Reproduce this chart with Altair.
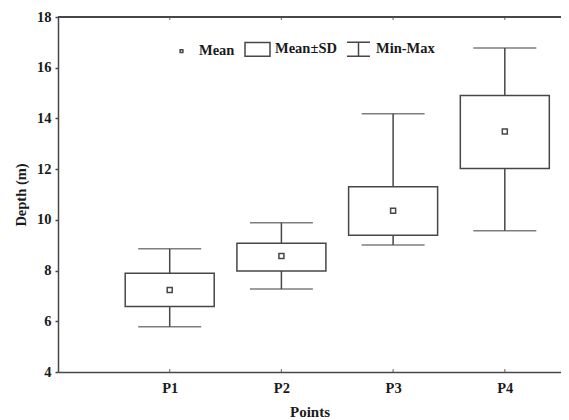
import altair as alt
import pandas as pd

# ---- data ----
points = ["P1", "P2", "P3", "P4"]
positions = [1, 2, 3, 4]
means = [7.23, 8.57, 10.36, 13.48]
sd_low = [6.58, 7.98, 9.39, 12.03]
sd_high = [7.89, 9.08, 11.31, 14.90]
mins = [5.78, 7.27, 9.01, 9.57]
maxs = [8.86, 9.89, 14.18, 16.78]
y_ticks = [4, 6, 8, 10, 12, 14, 16, 18]
legend_entries = ["Mean", "Mean±SD", "Min-Max"]

df = pd.DataFrame({
    "point": points, "pos": positions, "mean": means,
    "sd_low": sd_low, "sd_high": sd_high, "min": mins, "max": maxs,
})
legend_df = pd.DataFrame({"entry": legend_entries})

# ---- styles ----
LINE = "#474747"
TEXT = "#1a1a1a"
FONT = "Liberation Serif"
SW = 1.5

x_scale = alt.Scale(domain=[0, 4.503], nice=False, zero=False, padding=0)
y_scale = alt.Scale(domain=[4, 18], nice=False, zero=False, padding=0)

label_expr = "[" + ",".join("'%s'" % p for p in points) + "][datum.value - 1]"

x_axis = alt.Axis(values=positions, labelExpr=label_expr, title="Points",
                  tickSize=0, labelPadding=9, titlePadding=10, grid=False)
y_axis = alt.Axis(values=y_ticks, title="Depth (m)", tickSize=3,
                  labelPadding=4, titlePadding=8, grid=False)


def X():
    return alt.X("pos:Q", scale=x_scale, axis=x_axis, title="Points")


def Y(field):
    return alt.Y(field, scale=y_scale, axis=y_axis, title="Depth (m)")


def YD(v):
    return alt.YDatum(v, scale=y_scale, axis=y_axis, title="Depth (m)")


base = alt.Chart(df)

whisker = base.mark_rule(color=LINE, strokeWidth=SW).encode(
    x=X(), y=Y("min:Q"), y2="max:Q")

cap_min = base.mark_tick(orient="horizontal", size=63, thickness=SW, color=LINE).encode(
    x=X(), y=Y("min:Q"))
cap_max = base.mark_tick(orient="horizontal", size=63, thickness=SW, color=LINE).encode(
    x=X(), y=Y("max:Q"))

box = base.mark_bar(size=89, fill="white", stroke=LINE, strokeWidth=SW).encode(
    x=X(), y=Y("sd_low:Q"), y2="sd_high:Q")

mean_pt = base.mark_square(size=25, fill="white", stroke=LINE, strokeWidth=SW,
                           opacity=1, filled=True).encode(
    x=X(), y=Y("mean:Q"))

# frame top line and inward category ticks
top_line = base.mark_rule(color=LINE, strokeWidth=SW).encode(y=YD(18))
tick_bottom = base.mark_tick(orient="vertical", size=3, thickness=1.2, color=LINE,
                             yOffset=-1.5).encode(x=X(), y=YD(4))
tick_top = base.mark_tick(orient="vertical", size=3, thickness=1.2, color=LINE,
                          yOffset=1.5).encode(x=X(), y=YD(18))

# legend built from a shape scale with custom symbol paths
legend_paths = [
    "M-0.11,-0.11H0.11V0.11H-0.11Z",
    "M-1,-0.55H1V0.55H-1Z",
    "M-0.92,-0.56H0.92M0,-0.56V0.56M-0.92,0.56H0.92",
]
legend_layer = alt.Chart(legend_df).transform_filter("false").mark_point(
    filled=False, color=LINE, strokeWidth=SW, opacity=1).encode(
    shape=alt.Shape("entry:N",
                    scale=alt.Scale(domain=legend_entries, range=legend_paths),
                    legend=alt.Legend(
                        orient="none", legendX=110, legendY=18.5,
                        direction="horizontal", title=None,
                        symbolSize=625, symbolStrokeWidth=SW,
                        symbolStrokeColor=LINE, symbolOpacity=1,
                        labelOffset=4, columnPadding=7,
                        padding=0, labelFont=FONT, labelFontWeight="bold",
                        labelFontSize=14.5, labelColor=TEXT,
                        labelBaseline="middle")))

chart = alt.layer(
    whisker, cap_min, cap_max, box, mean_pt, top_line, tick_bottom, tick_top,
    legend_layer,
).properties(
    width=503, height=355,
    autosize=alt.AutoSizeParams(type="none"),
    padding={"left": 50, "top": 9, "right": 0, "bottom": 48},
).configure_view(
    stroke=None
).configure_axis(
    domainColor=LINE, domainWidth=SW, tickColor=LINE, tickWidth=SW,
    labelFont=FONT, labelFontWeight="bold", labelFontSize=14.5, labelColor=TEXT,
    titleFont=FONT, titleFontWeight="bold", titleColor=TEXT,
).configure_axisX(
    titleFontSize=15
).configure_axisY(
    titleFontSize=14.5
)

chart.save("out.html", embed_options={"renderer": "svg", "actions": False})
